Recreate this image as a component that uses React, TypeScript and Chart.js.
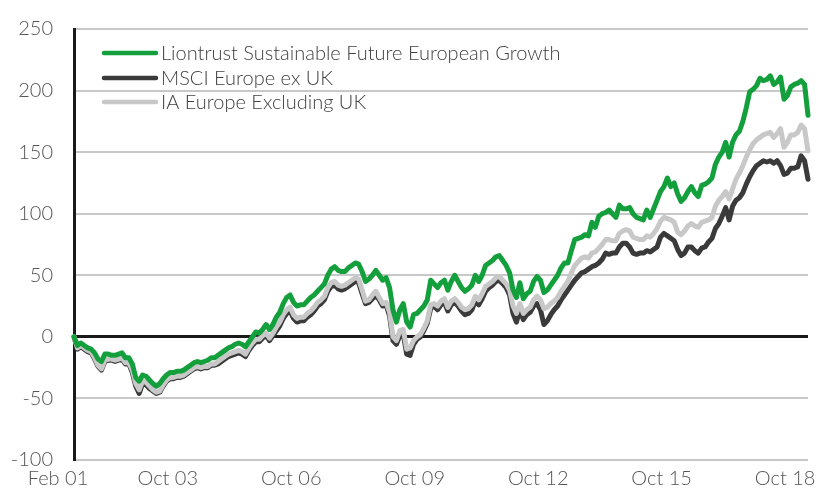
import React, { useEffect, useRef } from "react";
import { Chart, registerables } from "chart.js";

Chart.register(...registerables);

// Monthly categories, Feb 2001 .. Dec 2018
const MONTHS = ["Jan", "Feb", "Mar", "Apr", "May", "Jun", "Jul", "Aug", "Sep", "Oct", "Nov", "Dec"];
const categories: string[] = [];
for (let y = 2001, m = 1; y < 2019; ) {
  categories.push(MONTHS[m] + " " + String(y % 100).padStart(2, "0"));
  m++;
  if (m > 11) { m = 0; y++; }
}

const tickLabels = ["Feb 01", "Oct 03", "Oct 06", "Oct 09", "Oct 12", "Oct 15", "Oct 18"];

const seriesNames = ["Liontrust Sustainable Future European Growth", "MSCI Europe ex UK", "IA Europe Excluding UK"];

const liontrust = [
  0, -7, -5, -7, -9, -10, -13, -18, -20, -14, -14,
  -15, -15, -14, -13, -17, -17, -22, -33, -36, -31, -32, -35,
  -38, -40, -38, -34, -31, -29, -29, -28, -28, -27, -25, -23,
  -21, -20, -21, -20, -19, -17, -17, -15, -13, -11, -9, -8,
  -6, -5, -6, -8, -4, 0, 4, 3, 6, 10, 6, 10,
  16, 20, 27, 32, 34, 28, 25, 26, 26, 29, 32, 34,
  37, 40, 43, 50, 55, 57, 54, 53, 53, 56, 58, 60,
  59, 53, 45, 47, 50, 54, 50, 46, 48, 40, 22, 12,
  22, 27, 12, 8, 18, 19, 22, 25, 30, 46, 43, 40,
  44, 46, 38, 45, 50, 45, 40, 37, 39, 42, 50, 45,
  50, 58, 60, 62, 65, 66, 62, 58, 52, 38, 32, 44,
  31, 35, 37, 45, 49, 46, 36, 38, 42, 46, 50, 56,
  60, 60, 70, 79, 80, 81, 83, 82, 93, 89, 98, 100,
  101, 103, 100, 97, 107, 104, 104, 105, 100, 97, 96, 95,
  103, 97, 104, 111, 118, 122, 129, 122, 125, 116, 110, 113,
  118, 122, 117, 114, 123, 124, 126, 129, 140, 146, 150, 158,
  146, 158, 164, 167, 175, 186, 199, 201, 204, 210, 208, 209,
  212, 205, 207, 211, 193, 196, 203, 205, 206, 208, 205, 180,
];

const msci = [
  0, -10, -8, -10, -12, -13, -18, -24, -27, -20, -19,
  -19, -20, -19, -18, -22, -22, -29, -40, -46, -38, -39, -42,
  -44, -46, -45, -40, -36, -34, -34, -33, -33, -32, -30, -28,
  -26, -25, -26, -25, -25, -23, -23, -22, -20, -18, -16, -15,
  -14, -13, -14, -16, -11, -7, -4, -4, -1, 1, -3, 1,
  5, 9, 15, 19, 21, 15, 12, 13, 13, 16, 18, 21,
  25, 27, 30, 37, 41, 42, 39, 38, 39, 41, 43, 45,
  44, 35, 27, 28, 31, 34, 30, 25, 26, 17, -3, -6,
  1, 2, -14, -15, -6, -2, 0, 5, 11, 23, 25, 22,
  26, 28, 21, 26, 28, 25, 21, 18, 19, 22, 29, 26,
  31, 37, 40, 42, 45, 46, 43, 40, 34, 19, 12, 22,
  14, 18, 20, 25, 27, 22, 10, 13, 18, 22, 25, 30,
  34, 38, 42, 46, 49, 52, 53, 55, 57, 58, 60, 63,
  68, 67, 68, 68, 73, 76, 76, 73, 68, 67, 68, 68,
  70, 69, 71, 73, 81, 84, 82, 80, 78, 71, 66, 68,
  73, 73, 70, 68, 72, 73, 77, 80, 88, 92, 98, 105,
  95, 106, 111, 113, 117, 124, 130, 135, 139, 141, 143, 142,
  143, 141, 143, 139, 132, 133, 137, 137, 138, 147, 143, 128,
];

const iaEurope = [
  0, -9, -7, -9, -11, -12, -17, -23, -26, -19, -18,
  -18, -19, -18, -17, -21, -21, -27, -38, -43, -36, -37, -40,
  -43, -45, -44, -39, -35, -33, -33, -32, -32, -31, -29, -27,
  -25, -24, -25, -24, -24, -22, -22, -20, -18, -16, -14, -13,
  -12, -11, -12, -14, -9, -5, -2, -2, 1, 3, -1, 3,
  8, 12, 18, 22, 24, 18, 15, 16, 16, 19, 21, 24,
  28, 30, 33, 40, 44, 45, 42, 41, 42, 44, 46, 48,
  47, 38, 29, 30, 34, 37, 32, 27, 28, 20, 0, -3,
  5, 6, -10, -9, -3, 0, 2, 7, 13, 26, 27, 25,
  29, 31, 24, 29, 31, 28, 24, 22, 23, 26, 33, 30,
  35, 41, 43, 45, 48, 49, 46, 43, 38, 25, 19, 27,
  19, 22, 24, 30, 33, 30, 23, 24, 27, 29, 32, 37,
  41, 45, 52, 58, 61, 64, 65, 64, 68, 69, 72, 75,
  79, 79, 78, 78, 84, 86, 87, 86, 81, 80, 79, 79,
  82, 81, 84, 88, 94, 97, 96, 95, 93, 85, 83, 86,
  90, 92, 90, 89, 93, 94, 95, 97, 106, 111, 114, 118,
  112, 120, 128, 133, 139, 146, 152, 157, 160, 162, 164, 165,
  166, 162, 165, 169, 154, 158, 164, 164, 166, 172, 169, 151,
];

const GREEN = "#13a03c";
const DARK = "#3a3a3a";
const GREY = "#c8c8c8";
const FONT = "Lato";
const FONT_SIZE = 20;

const legendPlugin = {
  id: "insideLegend",
  afterDraw(chart: any) {
    const ctx = chart.ctx as CanvasRenderingContext2D;
    const colors = [GREEN, DARK, GREY];
    const rows = [53, 78, 102];
    ctx.save();
    ctx.lineCap = "round";
    ctx.lineWidth = 4.5;
    ctx.font = `300 ${FONT_SIZE}px ${FONT}`;
    ctx.textBaseline = "middle";
    ctx.textAlign = "left";
    seriesNames.forEach((name, i) => {
      ctx.strokeStyle = colors[i];
      ctx.beginPath();
      ctx.moveTo(104, rows[i]);
      ctx.lineTo(156, rows[i]);
      ctx.stroke();
      ctx.fillStyle = "#404040";
      ctx.fillText(name, 161, rows[i] + 0.5);
    });
    ctx.restore();
  },
};

// pin the plot area to the reference geometry
const fixedArea = {
  id: "fixedArea",
  afterLayout(chart: any) {
    const L = 74, R = 808, T = 29, B = 460, H = 489;
    const a = chart.chartArea;
    a.left = L; a.right = R; a.top = T; a.bottom = B; a.width = R - L; a.height = B - T;
    const x = chart.scales.x, y = chart.scales.y;
    x.left = L; x.right = R; x.width = R - L; x.top = B; x.bottom = H; x.height = H - B;
    y.left = 0; y.right = L; y.width = L; y.top = T; y.bottom = B; y.height = B - T;
    x.configure();
    y.configure();
  },
};

export default function App() {
  const ref = useRef<HTMLCanvasElement | null>(null);
  useEffect(() => {
    if (!ref.current) return;
    const tickIdx: number[] = tickLabels.map((t) => categories.indexOf(t));
    const lineDs = (label: string, data: number[], color: string, order: number) => ({
      label,
      data,
      borderColor: color,
      backgroundColor: color,
      borderWidth: 5,
      pointRadius: 0,
      tension: 0,
      borderJoinStyle: "round" as const,
      borderCapStyle: "round" as const,
      order,
      clip: false as any,
    });
    const chart = new Chart(ref.current, {
      type: "line",
      data: {
        labels: categories,
        datasets: [
          lineDs(seriesNames[0], liontrust, GREEN, 0),
          lineDs(seriesNames[1], msci, DARK, 2),
          lineDs(seriesNames[2], iaEurope, GREY, 1),
        ],
      },
      options: {
        animation: false,
        responsive: false,
        layout: { padding: { top: 29, right: 11, bottom: 0, left: 0 } },
        plugins: { legend: { display: false }, tooltip: { enabled: false } },
        scales: {
          x: {
            type: "category",
            offset: false,
            grid: { display: false, drawTicks: false },
            border: { display: false },
            afterFit: (s: any) => { s.height = 29; },
            ticks: {
              autoSkip: false,
              maxRotation: 0,
              minRotation: 0,
              padding: 7,
              labelOffset: -16,
              color: "#555555",
              font: { family: FONT, size: FONT_SIZE, weight: "300" as any },
              callback: (_v: any, i: number) => {
                const k = tickIdx.indexOf(i);
                return k >= 0 ? tickLabels[k] : null;
              },
            },
          },
          y: {
            min: -100,
            max: 250,
            afterFit: (s: any) => { s.width = 74; },
            border: { display: true, color: "#1a1a1a", width: 3 },
            grid: {
              drawTicks: false,
              color: (c: any) => (c.tick && c.tick.value === 0 ? "#1a1a1a" : GREY),
              lineWidth: (c: any) => (c.tick && c.tick.value === 0 ? 3 : 2),
            },
            ticks: {
              stepSize: 50,
              padding: 21,
              color: "#555555",
              font: { family: FONT, size: FONT_SIZE, weight: "300" as any },
            },
          },
        },
      },
      plugins: [fixedArea, legendPlugin],
    });
    return () => chart.destroy();
  }, []);
  return (
    <div style={{ position: "absolute", left: 0, top: 0, width: 819, height: 489, background: "#fff" }}>
      <canvas ref={ref} width={819} height={489} style={{ display: "block" }} />
    </div>
  );
}
